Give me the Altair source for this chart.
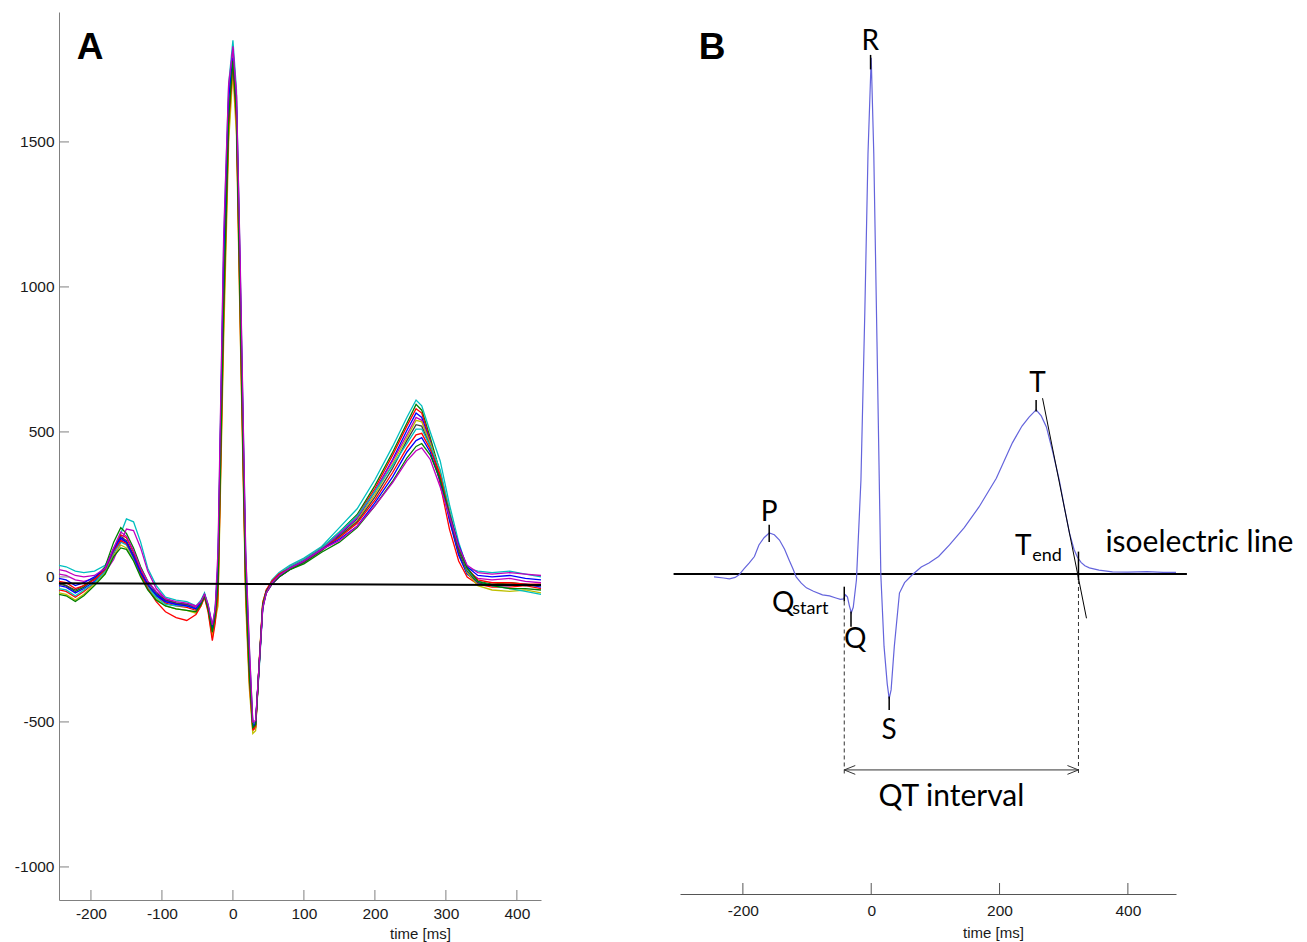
import altair as alt
import pandas as pd

# ---------------- Panel A : superimposed beats ----------------
time_A = [-245, -235, -222, -210, -195, -180, -168, -158, -150, -140, -130, -120, -108, -95, -80,
          -65, -52, -45, -40, -35, -29, -25, -21, -13, -6, 0, 5, 10, 18, 23, 28, 32, 37, 42, 47,
          55, 65, 80, 100, 125, 150, 175, 200, 225, 245, 258, 266, 278, 292, 305, 318, 330, 345,
          365, 390, 412, 434]

beat_01 = [40, 35, 20, 15, 20, 40, 90, 150, 200, 190, 120, 30, -30, -70, -80, -85, -100, -80, -55, -95,
           -170, -110, 60, 1150, 1700, 1850, 1680, 1100, 80, -240, -500, -510, -320, -110, -50, -10, 15, 40, 65, 105,
           170, 235, 335, 450, 550, 610, 590, 500, 400, 250, 120, 30, 20, 15, 20, 10, 0]
beat_02 = [-20, -30, -50, -35, -5, 35, 120, 170, 150, 100, 35, -15, -55, -80, -90, -95, -105, -85, -60, -105,
           -190, -130, -40, 950, 1580, 1800, 1600, 980, -20, -320, -520, -520, -310, -100, -50, -20, 5, 30, 55, 100,
           155, 215, 315, 430, 530, 595, 575, 480, 360, 200, 80, 10, -15, -25, -20, -25, -30]
beat_03 = [-45, -50, -70, -50, -20, 20, 95, 145, 135, 85, 25, -25, -65, -90, -100, -105, -115, -95, -65, -110,
           -200, -140, -80, 880, 1540, 1760, 1560, 900, -60, -360, -530, -520, -300, -90, -45, -15, 10, 35, 60, 100,
           150, 210, 305, 420, 520, 580, 565, 470, 320, 165, 55, 0, -25, -35, -35, -30, -40]
beat_04 = [-30, -35, -55, -40, -15, 25, 80, 130, 120, 75, 15, -30, -65, -85, -95, -100, -110, -90, -60, -100,
           -175, -120, 0, 1000, 1620, 1820, 1600, 1000, 0, -300, -510, -500, -300, -105, -55, -25, 0, 25, 50, 95,
           145, 200, 295, 405, 505, 565, 550, 465, 340, 195, 75, 10, -20, -30, -30, -25, -35]
beat_05 = [10, 5, -10, -15, -5, 15, 60, 120, 165, 160, 100, 20, -40, -75, -90, -95, -105, -85, -60, -100,
           -180, -125, 30, 1080, 1660, 1830, 1660, 1080, 50, -260, -505, -505, -310, -110, -55, -20, 5, 30, 55, 95,
           150, 205, 295, 400, 490, 550, 540, 460, 360, 215, 90, 20, -5, -10, -5, -15, -20]
beat_06 = [-55, -60, -80, -60, -25, 15, 75, 110, 100, 60, 5, -40, -75, -100, -110, -115, -125, -100, -70, -115,
           -210, -150, -100, 820, 1500, 1740, 1520, 880, -90, -380, -540, -530, -290, -85, -50, -20, 5, 25, 50, 90,
           140, 195, 285, 390, 480, 540, 535, 460, 360, 230, 100, 15, -30, -45, -50, -45, -55]
beat_07 = [-25, -30, -45, -30, -5, 30, 100, 140, 125, 75, 15, -30, -60, -80, -90, -95, -110, -90, -65, -105,
           -185, -125, -10, 980, 1600, 1800, 1610, 1010, 5, -305, -515, -510, -305, -100, -55, -25, 0, 25, 50, 90,
           140, 190, 275, 375, 470, 525, 520, 450, 345, 210, 90, 20, -20, -30, -25, -30, -30]
beat_08 = [-40, -45, -65, -45, -20, 20, 85, 120, 110, 65, 5, -35, -70, -95, -100, -100, -110, -90, -60, -100,
           -170, -115, 20, 1050, 1640, 1810, 1640, 1060, 40, -270, -510, -505, -305, -100, -50, -15, 10, 35, 60, 100,
           155, 210, 295, 385, 460, 510, 510, 450, 370, 230, 105, 25, -15, -30, -40, -50, -60]
beat_09 = [-15, -20, -40, -30, -10, 25, 90, 125, 115, 70, 10, -40, -85, -120, -140, -150, -130, -100, -70, -120,
           -220, -160, -60, 900, 1560, 1770, 1570, 940, -50, -350, -525, -515, -295, -90, -45, -15, 10, 30, 55, 95,
           135, 185, 265, 360, 445, 490, 495, 440, 350, 220, 105, 30, -10, -20, -20, -25, -25]
beat_10 = [-5, -10, -30, -20, 0, 30, 95, 135, 120, 70, 15, -25, -60, -85, -95, -100, -110, -90, -65, -105,
           -180, -120, 40, 1100, 1650, 1790, 1620, 1040, 30, -290, -515, -505, -300, -100, -50, -20, 5, 30, 55, 95,
           130, 175, 255, 345, 430, 470, 480, 430, 330, 215, 110, 35, 5, 0, 5, -5, -10]
beat_11 = [-60, -65, -85, -65, -30, 10, 70, 100, 95, 55, 0, -45, -80, -100, -110, -115, -120, -95, -65, -110,
           -190, -135, -30, 930, 1580, 1780, 1590, 960, -30, -330, -520, -510, -300, -95, -50, -20, 0, 25, 45, 85,
           120, 170, 245, 330, 410, 450, 460, 420, 335, 215, 100, 30, -15, -30, -40, -40, -45]
beat_12 = [25, 20, 5, 0, 5, 30, 100, 155, 140, 90, 30, -15, -50, -75, -85, -90, -100, -85, -60, -95,
           -165, -110, 90, 1180, 1700, 1820, 1660, 1120, 90, -230, -500, -495, -300, -105, -55, -20, 5, 30, 55, 95,
           125, 175, 245, 325, 400, 435, 445, 405, 310, 210, 105, 40, 15, 10, 15, 10, 5]

beats_A = [beat_01, beat_02, beat_03, beat_04, beat_05, beat_06,
           beat_07, beat_08, beat_09, beat_10, beat_11, beat_12]
beat_names = ["b01", "b02", "b03", "b04", "b05", "b06", "b07", "b08", "b09", "b10", "b11", "b12"]
beat_colors = ["#00bfbf", "#008000", "#ff0000", "#0000ff", "#bf00bf", "#bfbf00",
               "#404040", "#00bfbf", "#ff0000", "#0000ff", "#008000", "#bf00bf"]

isoA_t = [-245, 434]
isoA_v = [-22, -28]

ticksA_x = [-200, -100, 0, 100, 200, 300, 400]
ticksA_y = [-1000, -500, 0, 500, 1000, 1500]

letterA_text = ["A"]
letterA_t = [-201]
letterA_v = [1824]

# ---------------- Panel B : annotated single beat ----------------
time_B = [-245, -230, -221, -212, -206, -198, -190, -182, -175, -167,
          -159, -151, -143, -135, -128, -122, -117, -109, -101, -90,
          -76, -65, -55, -48, -43, -40, -37, -34, -31, -28,
          -23, -16, -10, -5, 0, 4, 9, 15, 20, 25,
          28, 31, 36, 44, 52, 64, 78, 90, 105, 122,
          145, 168, 195, 220, 235, 246, 257, 265, 273, 283,
          293, 301, 309, 316, 321, 327, 333, 340, 355, 376,
          400, 430, 455, 475]
val_B = [-10, -14, -17, -12, -3, 18, 38, 60, 100, 125,
         141, 135, 117, 85, 48, 18, -10, -32, -48, -60,
         -72, -76, -83, -88, -86, -72, -80, -110, -134, -115,
         -20, 324, 900, 1450, 1780, 1450, 800, -3, -250, -380,
         -430, -400, -250, -66, -30, -3, 24, 38, 60, 100,
         160, 231, 330, 452, 510, 541, 566, 545, 507, 420,
         324, 230, 141, 85, 59, 40, 28, 21, 13, 7,
         6, 8, 5, 5]

isoB_t = [-308, 492]
isoB_v = [0, 0]

tangent_t = [267, 335.5]
tangent_v = [606, -153]

fid_name = ["P", "R", "Qstart", "Q", "S", "T", "Tend"]
fid_t = [-159, -1, -42, -31.5, 28, 257, 323]
fid_v1 = [110, 1740, -44, -130, -423, 560, -21]
fid_v2 = [170, 1790, -95, -182, -469, 600, 77]

qt_t = [-42, 323]
qt_top = [-95, -21]
qt_bottom = [-690, -690]
arrow_v = [-676, -676]

ticksB_x = [-200, 0, 200, 400]

label_text = ["P", "R", "T", "Q", "S"]
label_t = [-159, -1.5, 259, -25, 28]
label_v = [210, 1834, 655, -228, -541]

sub_main_text = ["Q", "T"]
sub_main_t = [-137, 237]
sub_main_v = [-103, 93]
sub_text = ["start", "end"]
sub_t = [-123, 251]
sub_v = [-121, 62]

iso_label = ["isoelectric line"]
iso_label_t = [365]
iso_label_v = [107]

qt_label = ["QT interval"]
qt_label_t = [125]
qt_label_v = [-769]

letterB_text = ["B"]
letterB_t = [-248]
letterB_v = [1814]

# ---------------- layout constants ----------------
W, H = 1117, 888
XA_DOM, XA_RANGE = [-245, 434], [0, 482]
YA_DOM, YA_RANGE = [-1114, 1948], [H, 0]
XB_DOM, XB_RANGE = [-298, 475], [621, W]
YB_DOM, YB_RANGE = [-1097, 1938], [880, 0]
B_AXIS_OFFSET = -6
TICK_LEN = 10

# data units per pixel (used to give the inward axis ticks their pixel length)
ppx_xA = (XA_DOM[1] - XA_DOM[0]) / (XA_RANGE[1] - XA_RANGE[0])
ppx_yA = (YA_DOM[1] - YA_DOM[0]) / (YA_RANGE[0] - YA_RANGE[1])
ppx_yB = (YB_DOM[1] - YB_DOM[0]) / (YB_RANGE[0] - YB_RANGE[1])
yB_axis = YB_DOM[0] - (H + B_AXIS_OFFSET - YB_RANGE[0]) * ppx_yB

# ---------------- data frames ----------------
beats_df = pd.DataFrame([
    {"tA": t, "vA": v, "beat": name}
    for name, beat in zip(beat_names, beats_A)
    for t, v in zip(time_A, beat)
])
isoA_df = pd.DataFrame({"tA": isoA_t, "vA": isoA_v})
tickAx_df = pd.DataFrame({"tA": ticksA_x})
tickAx_df["v1"] = YA_DOM[0]
tickAx_df["v2"] = YA_DOM[0] + TICK_LEN * ppx_yA
tickAy_df = pd.DataFrame({"vA": ticksA_y})
tickAy_df["t1"] = XA_DOM[0]
tickAy_df["t2"] = XA_DOM[0] + TICK_LEN * ppx_xA
letterA_df = pd.DataFrame({"tA": letterA_t, "vA": letterA_v, "txt": letterA_text})

traceB_df = pd.DataFrame({"tB": time_B, "vB": val_B})
isoB_df = pd.DataFrame({"tB": isoB_t, "vB": isoB_v})
tangent_df = pd.DataFrame({"tB": tangent_t, "vB": tangent_v})
fid_df = pd.DataFrame({"name": fid_name, "tB": fid_t, "v1": fid_v1, "v2": fid_v2})
qt_df = pd.DataFrame({"tB": qt_t, "v1": qt_top, "v2": qt_bottom})
arrow_df = pd.DataFrame({"t1": [qt_t[0]], "t2": [qt_t[1]], "vB": [arrow_v[0]]})
chevL_df = pd.DataFrame({"tB": [qt_t[0]], "vB": [arrow_v[0]]})
chevR_df = pd.DataFrame({"tB": [qt_t[1]], "vB": [arrow_v[1]]})
tickBx_df = pd.DataFrame({"tB": ticksB_x})
tickBx_df["v1"] = yB_axis
tickBx_df["v2"] = yB_axis + (TICK_LEN + 1) * ppx_yB
label_df = pd.DataFrame({"tB": label_t, "vB": label_v, "txt": label_text})
submain_df = pd.DataFrame({"tB": sub_main_t, "vB": sub_main_v, "txt": sub_main_text})
sub_df = pd.DataFrame({"tB": sub_t, "vB": sub_v, "txt": sub_text})
isolab_df = pd.DataFrame({"tB": iso_label_t, "vB": iso_label_v, "txt": iso_label})
qtlab_df = pd.DataFrame({"tB": qt_label_t, "vB": qt_label_v, "txt": qt_label})
letterB_df = pd.DataFrame({"tB": letterB_t, "vB": letterB_v, "txt": letterB_text})

# ---------------- scales & axes ----------------
def sxA():
    return alt.Scale(domain=XA_DOM, range=XA_RANGE, nice=False, zero=False)


def syA():
    return alt.Scale(domain=YA_DOM, range=YA_RANGE, nice=False, zero=False)


def sxB():
    return alt.Scale(domain=XB_DOM, range=XB_RANGE, nice=False, zero=False)


def syB():
    return alt.Scale(domain=YB_DOM, range=YB_RANGE, nice=False, zero=False)


AX = "#808080"
LBL = "#1a1a1a"
FONT = "Liberation Sans"
ANN = "Lato"
LABEL_EXPR = "toString(datum.value)"

axis_xA = alt.Axis(values=ticksA_x, orient="bottom", ticks=False, grid=False,
                   domainColor=AX, domainWidth=1, labelFont=FONT, labelFontSize=15.5,
                   labelColor=LBL, labelPadding=6, labelFlush=False, labelExpr=LABEL_EXPR,
                   title="time [ms]", titleFont=FONT, titleFontSize=15, titleFontWeight="normal",
                   titleColor=LBL, titleX=361, titleY=33, titleBaseline="middle")
axis_yA = alt.Axis(values=ticksA_y, orient="left", ticks=False, grid=False,
                   domainColor=AX, domainWidth=1, labelFont=FONT, labelFontSize=15.5,
                   labelColor=LBL, labelPadding=5, labelFlush=False, labelExpr=LABEL_EXPR,
                   title=None)
axis_xB = alt.Axis(values=ticksB_x, orient="bottom", offset=B_AXIS_OFFSET, ticks=False, grid=False,
                   domainColor="#555555", domainWidth=1, labelFont=FONT, labelFontSize=15.5,
                   labelColor=LBL, labelPadding=9, labelFlush=False, labelExpr=LABEL_EXPR,
                   title="time [ms]", titleFont=FONT, titleFontSize=15, titleFontWeight="normal",
                   titleColor=LBL, titleX=934, titleY=38, titleBaseline="middle")


def xa(field="tA", axis=None):
    if axis is None:
        return alt.X(f"{field}:Q", scale=sxA(), axis=None)
    return alt.X(f"{field}:Q", scale=sxA(), axis=axis)


def ya(field="vA", axis=None):
    if axis is None:
        return alt.Y(f"{field}:Q", scale=syA(), axis=None)
    return alt.Y(f"{field}:Q", scale=syA(), axis=axis)


def xb(field="tB", axis=None):
    if axis is None:
        return alt.X(f"{field}:Q", scale=sxB(), axis=None)
    return alt.X(f"{field}:Q", scale=sxB(), axis=axis)


def yb(field="vB"):
    return alt.Y(f"{field}:Q", scale=syB(), axis=None)


# ---------------- panel A layers ----------------
beats = alt.Chart(beats_df).mark_line(strokeWidth=1.3).encode(
    x=xa(axis=axis_xA),
    y=ya(axis=axis_yA),
    color=alt.Color("beat:N", scale=alt.Scale(domain=beat_names, range=beat_colors), legend=None),
    detail="beat:N",
)
isoA = alt.Chart(isoA_df).mark_line(color="black", strokeWidth=2).encode(x=xa(), y=ya())
tickAx = alt.Chart(tickAx_df).mark_rule(color=AX, strokeWidth=1).encode(
    x=xa(), y=ya("v1"), y2="v2:Q")
tickAy = alt.Chart(tickAy_df).mark_rule(color=AX, strokeWidth=1).encode(
    y=ya(), x=xa("t1"), x2="t2:Q")
letterA = alt.Chart(letterA_df).mark_text(font=FONT, fontSize=37, fontWeight="bold",
                                          color="black", baseline="middle", align="center").encode(
    x=xa(), y=ya(), text="txt:N")

# ---------------- panel B layers ----------------
isoB = alt.Chart(isoB_df).mark_line(color="black", strokeWidth=2).encode(
    x=xb(axis=axis_xB), y=yb())
traceB = alt.Chart(traceB_df).mark_line(color="#6464dc", strokeWidth=1.2).encode(x=xb(), y=yb())
tangent = alt.Chart(tangent_df).mark_line(color="black", strokeWidth=1).encode(x=xb(), y=yb())
fid = alt.Chart(fid_df).mark_rule(color="black", strokeWidth=1.5).encode(
    x=xb(), y=yb("v1"), y2="v2:Q")
dashed = alt.Chart(qt_df).mark_rule(color="#333333", strokeWidth=1, strokeDash=[4, 3]).encode(
    x=xb(), y=yb("v1"), y2="v2:Q")
arrow = alt.Chart(arrow_df).mark_rule(color="#333333", strokeWidth=1).encode(
    x=xb("t1"), x2="t2:Q", y=yb())
chevL = alt.Chart(chevL_df).mark_point(shape="M 2 -0.8 L 0 0 L 2 0.8", size=121, filled=False,
                                       color="#333333", strokeWidth=1, opacity=1).encode(x=xb(), y=yb())
chevR = alt.Chart(chevR_df).mark_point(shape="M -2 -0.8 L 0 0 L -2 0.8", size=121, filled=False,
                                       color="#333333", strokeWidth=1, opacity=1).encode(x=xb(), y=yb())
tickBx = alt.Chart(tickBx_df).mark_rule(color="#555555", strokeWidth=1).encode(
    x=xb(), y=yb("v1"), y2="v2:Q")
labels = alt.Chart(label_df).mark_text(font=ANN, fontSize=28, color="black",
                                       baseline="middle", align="center").encode(
    x=xb(), y=yb(), text="txt:N")
submain = alt.Chart(submain_df).mark_text(font=ANN, fontSize=28, color="black",
                                          baseline="middle", align="center").encode(
    x=xb(), y=yb(), text="txt:N")
subs = alt.Chart(sub_df).mark_text(font=ANN, fontSize=18, color="black",
                                   baseline="middle", align="left").encode(
    x=xb(), y=yb(), text="txt:N")
isolab = alt.Chart(isolab_df).mark_text(font=ANN, fontSize=30, color="black",
                                        baseline="middle", align="left").encode(
    x=xb(), y=yb(), text="txt:N")
qtlab = alt.Chart(qtlab_df).mark_text(font=ANN, fontSize=30, color="black",
                                      baseline="middle", align="center").encode(
    x=xb(), y=yb(), text="txt:N")
letterB = alt.Chart(letterB_df).mark_text(font=FONT, fontSize=37, fontWeight="bold", color="black",
                                          baseline="middle", align="center").encode(
    x=xb(), y=yb(), text="txt:N")

chart = alt.layer(
    beats, isoA, tickAx, tickAy, letterA,
    isoB, traceB, tangent, fid, dashed, arrow, chevL, chevR, tickBx,
    labels, submain, subs, isolab, qtlab, letterB,
).resolve_scale(
    x="independent", y="independent"
).properties(
    width=W, height=H,
    padding={"left": 6, "top": 4, "right": 5, "bottom": 5},
    background="white",
).configure_view(stroke=None)

chart.save("out.html", embed_options={"renderer": "svg", "actions": False})
